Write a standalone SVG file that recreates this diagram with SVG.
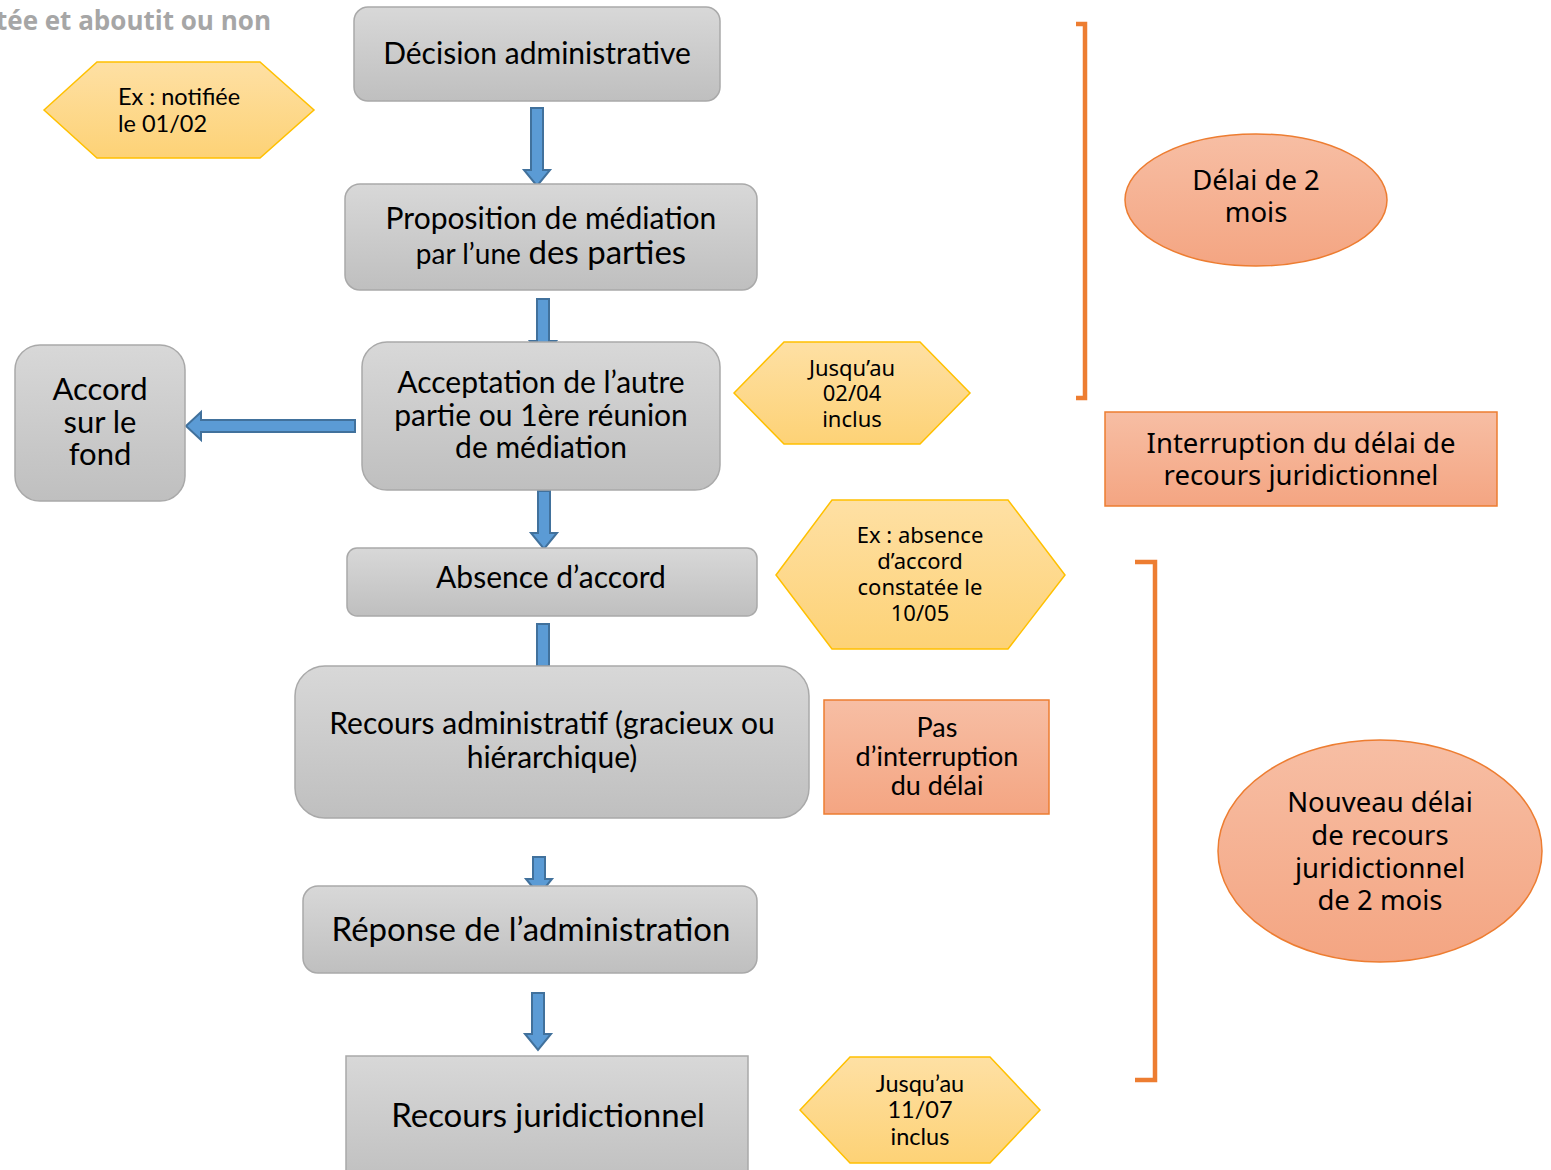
<svg xmlns="http://www.w3.org/2000/svg" width="1551" height="1170" viewBox="0 0 1551 1170">
<defs>
<linearGradient id="gGrey" x1="0" y1="0" x2="0" y2="1">
<stop offset="0" stop-color="#d8d8d8"/><stop offset="1" stop-color="#bfbfbf"/>
</linearGradient>
<linearGradient id="gGold" x1="0" y1="0" x2="0" y2="1">
<stop offset="0" stop-color="#fee0a4"/><stop offset="1" stop-color="#fdd276"/>
</linearGradient>
<linearGradient id="gSalmon" x1="0" y1="0" x2="0" y2="1">
<stop offset="0" stop-color="#f7bea4"/><stop offset="1" stop-color="#f4a582"/>
</linearGradient>
<style>
.grey{fill:url(#gGrey);stroke:#a9a9a9;stroke-width:1.5}
.gold{fill:url(#gGold);stroke:#ffc000;stroke-width:1.5}
.salmon{fill:url(#gSalmon);stroke:#ed7d31;stroke-width:1.5}
.arrow{fill:#5b9bd5;stroke:#41719c;stroke-width:2}
.bracket{fill:none;stroke:#ed7d31;stroke-width:4.5}
.c{font-family:Lato,"Liberation Sans",sans-serif;fill:#000;text-anchor:middle}
.m{font-family:"Noto Sans","Open Sans",sans-serif;fill:#000;text-anchor:middle}
</style>
</defs>
<text x="-4" y="30" style="font-family:'Open Sans','Liberation Sans',sans-serif;font-weight:bold;font-size:26px;fill:#a6a6a6">tée et aboutit ou non</text>

<g id="connectors">
<polygon class="arrow" points="531,108 543,108 543,170 550,170 537,186 524,170 531,170"/>
<polygon class="arrow" points="537,299 549,299 549,341 556,341 543,357 530,341 537,341"/>
<polygon class="arrow" points="538,491 550,491 550,533 557,533 544,549 531,533 538,533"/>
<polygon class="arrow" points="537,624 549,624 549,666 537,666"/>
<polygon class="arrow" points="533,857 545,857 545,879 552,879 539,895 526,879 533,879"/>
<polygon class="arrow" points="532,993 544,993 544,1034 551,1034 538,1050 525,1034 532,1034"/>
<polygon class="arrow" points="355,420 355,432 201,432 201,440 186,426 201,412 201,420"/>
</g>

<g id="decision">
<rect class="grey" x="354" y="7" width="366" height="94" rx="14"/>
<text class="c" x="537" y="64" font-size="30">Décision administrative</text>
</g>
<g id="proposition">
<rect class="grey" x="345" y="184" width="412" height="106" rx="15"/>
<text class="c" x="551" y="229" font-size="30">Proposition de médiation</text>
<text class="c" x="551" y="264" font-size="30"><tspan font-size="28">par l’une</tspan> <tspan font-size="33">des parties</tspan></text>
</g>
<g id="acceptation">
<rect class="grey" x="362" y="342" width="358" height="148" rx="25"/>
<text class="c" x="541" y="393" font-size="30">Acceptation de l’autre</text>
<text class="c" x="541" y="426" font-size="30">partie ou 1ère réunion</text>
<text class="c" x="541" y="458" font-size="30">de médiation</text>
</g>
<g id="accord">
<rect class="grey" x="15" y="345" width="170" height="156" rx="25"/>
<text class="c" x="100" y="400" font-size="31">Accord</text>
<text class="c" x="100" y="433" font-size="31">sur le</text>
<text class="c" x="100" y="465" font-size="31">fond</text>
</g>
<g id="absence">
<rect class="grey" x="347" y="548" width="410" height="68" rx="10"/>
<text class="c" x="551" y="588" font-size="30">Absence d’accord</text>
</g>
<g id="recours-admin">
<rect class="grey" x="295" y="666" width="514" height="152" rx="30"/>
<text class="c" x="552" y="734" font-size="30">Recours administratif (gracieux ou</text>
<text class="c" x="552" y="768" font-size="30">hiérarchique)</text>
</g>
<g id="reponse">
<rect class="grey" x="303" y="886" width="454" height="87" rx="15"/>
<text class="c" x="531" y="941" font-size="33">Réponse de l’administration</text>
</g>
<g id="recours-jur">
<rect class="grey" x="346" y="1056" width="402" height="130"/>
<text class="c" x="548" y="1127" font-size="33">Recours juridictionnel</text>
</g>

<g id="hex-notifiee">
<polygon class="gold" points="44,110 97,62 260,62 314,110 260,158 97,158"/>
<text x="118" y="105" font-size="23.5" style="font-family:Lato,'Liberation Sans',sans-serif">Ex : notifiée</text>
<text x="118" y="132" font-size="23.5" style="font-family:Lato,'Liberation Sans',sans-serif">le 01/02</text>
</g>
<g id="hex-0204">
<polygon class="gold" points="734,393 784,342 920,342 970,393 920,444 784,444"/>
<text class="m" x="852" y="376" font-size="22">Jusqu’au</text>
<text class="m" x="852" y="401" font-size="22">02/04</text>
<text class="m" x="852" y="427" font-size="22">inclus</text>
</g>
<g id="hex-1005">
<polygon class="gold" points="776,575 832,500 1008,500 1065,575 1008,649 832,649"/>
<text class="m" x="920" y="543" font-size="22">Ex : absence</text>
<text class="m" x="920" y="569" font-size="22">d’accord</text>
<text class="m" x="920" y="595" font-size="22">constatée le</text>
<text class="m" x="920" y="621" font-size="22">10/05</text>
</g>
<g id="pas-interruption">
<rect class="salmon" x="824" y="700" width="225" height="114"/>
<text class="c" x="937" y="737" font-size="27">Pas</text>
<text class="c" x="937" y="766" font-size="27">d’interruption</text>
<text class="c" x="937" y="795" font-size="27">du délai</text>
</g>
<g id="hex-1107">
<polygon class="gold" points="800,1110 850,1057 990,1057 1040,1110 990,1163 850,1163"/>
<text class="c" x="920" y="1092" font-size="23.5">Jusqu’au</text>
<text class="c" x="920" y="1118" font-size="23.5">11/07</text>
<text class="c" x="920" y="1145" font-size="23.5">inclus</text>
</g>

<g id="bracket-top">
<path class="bracket" d="M1076,24 H1085 V398 H1076"/>
</g>
<g id="bracket-bottom">
<path class="bracket" d="M1135,562 H1155 V1080 H1135"/>
</g>
<g id="delai-2-mois">
<ellipse class="salmon" cx="1256" cy="200" rx="131" ry="66"/>
<text class="m" x="1256" y="190" font-size="27.5">Délai de 2</text>
<text class="m" x="1256" y="222" font-size="27.5">mois</text>
</g>
<g id="interruption">
<rect class="salmon" x="1105" y="412" width="392" height="94"/>
<text class="m" x="1301" y="453" font-size="27.5">Interruption du délai de</text>
<text class="m" x="1301" y="485" font-size="27.5">recours juridictionnel</text>
</g>
<g id="nouveau-delai">
<ellipse class="salmon" cx="1380" cy="851" rx="162" ry="111"/>
<text class="m" x="1380" y="812" font-size="27.5">Nouveau délai</text>
<text class="m" x="1380" y="845" font-size="27.5">de recours</text>
<text class="m" x="1380" y="878" font-size="27.5">juridictionnel</text>
<text class="m" x="1380" y="910" font-size="27.5">de 2 mois</text>
</g>
</svg>
